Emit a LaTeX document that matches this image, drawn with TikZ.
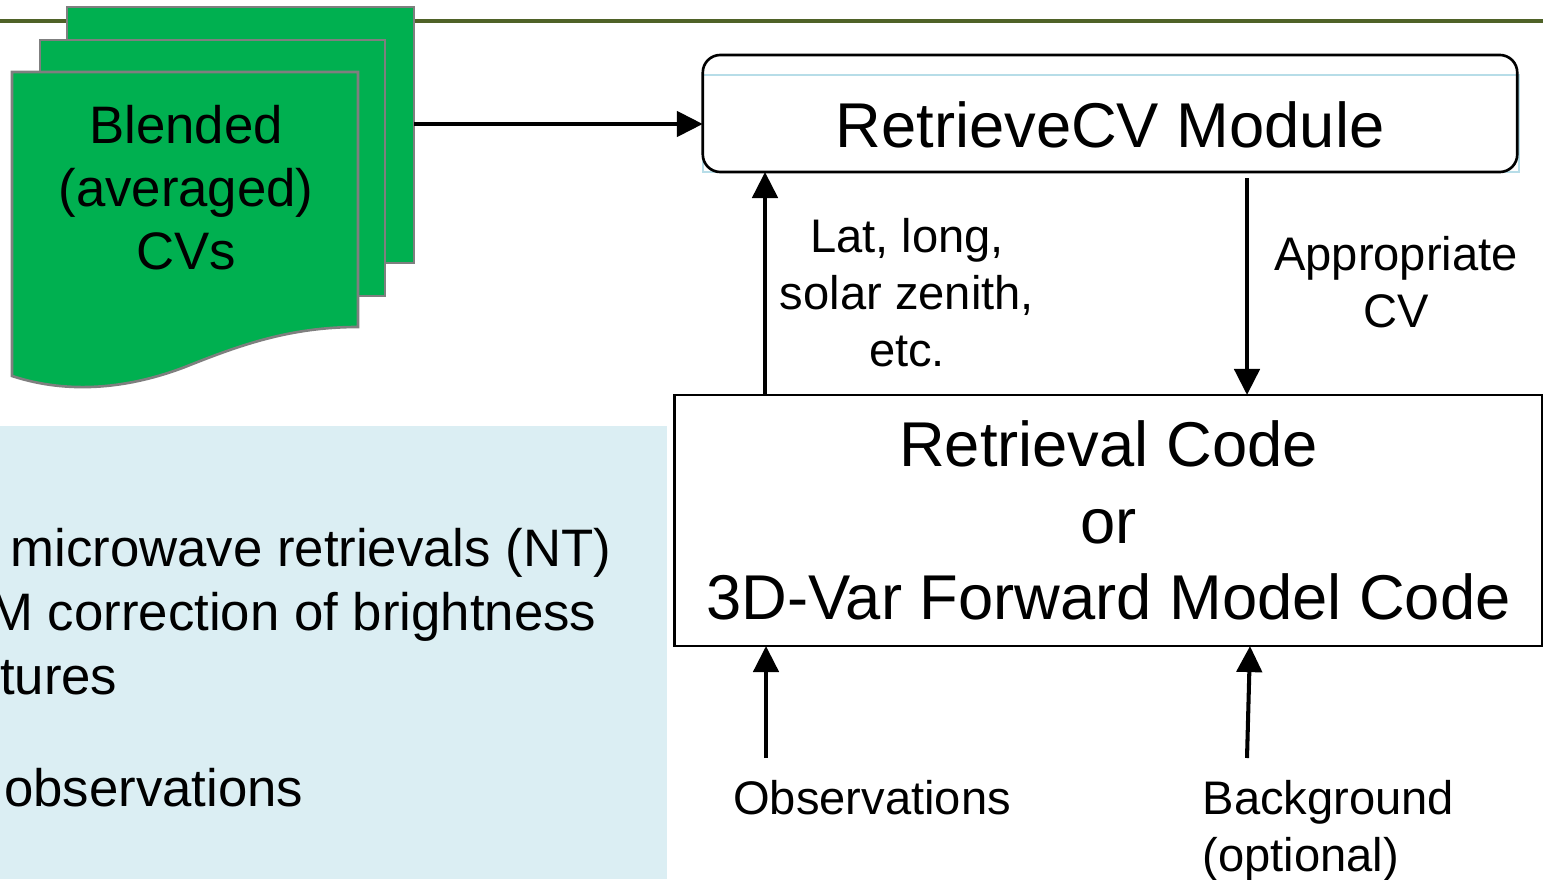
\documentclass[tikz,border=0pt]{standalone}
\usepackage{fontspec}
\setmainfont{Liberation Sans}
\usetikzlibrary{positioning, arrows.meta}

\definecolor{cvgreen}{RGB}{0,176,80}
\definecolor{docedge}{RGB}{127,127,127}
\definecolor{panelblue}{RGB}{219,238,243}
\definecolor{ruleolive}{RGB}{79,98,40}
\definecolor{ghostblue}{RGB}{183,221,232}

\newcommand{\boxfont}{\fontsize{18pt}{21.7pt}\selectfont}
\newcommand{\docfont}{\fontsize{15pt}{17.9pt}\selectfont}
\newcommand{\lblfont}{\fontsize{13.4pt}{16.2pt}\selectfont}

\tikzset{
  cvdoc/.style={draw=docedge, line width=0.75pt, fill=cvgreen},
  modbox/.style={draw, line width=0.75pt, outer sep=0pt},
  lbl/.style={font=\lblfont, inner sep=0pt},
  panelline/.style={font=\docfont, inner sep=0pt, anchor=base east}
}

\begin{document}
\begin{tikzpicture}[x=0.01cm, y=-0.01cm, >={Triangle[length=7.4pt,width=7.2pt]},
    flow/.style={->, line width=1.15pt}]
    \useasboundingbox (0,0) rectangle (1543,879);
    \clip (0,0) rectangle (1543,879);

    % header rule and side panel
    \draw[ruleolive, line width=1.1pt] (0,21) -- (1543,21);
    \fill[panelblue] (0,426) rectangle (667,879);
    \node[panelline] (p1) at (612,566) {microwave retrievals (NT)};
    \node[panelline] (p2) at (597,630) {M correction of brightness};
    \node[panelline] (p3) at (118,694) {tures};
    \node[panelline] (p4) at (304,806) {observations};

    % stack of CV files
    \node[cvdoc, minimum width=3.47cm, minimum height=2.56cm] (docA) at (240.5,135) {};
    \node[cvdoc, minimum width=3.45cm, minimum height=2.56cm] (docB) at (212.5,168) {};
    \draw[cvdoc] (12,72) -- (358,72) -- (358,327)
        .. controls (290,327) and (240,345) .. (185,367)
        .. controls (130,388) and (70,395) .. (12,376) -- cycle;
    \node[align=center, font=\docfont] (cvs) at (186,188) {Blended\\(averaged)\\CVs};

    % modules
    \draw[ghostblue, line width=0.4pt] (703,75) rectangle (1519,172);
    \node[modbox, rounded corners=5pt, minimum width=8.14cm, minimum height=1.17cm,
          text height=0.69cm, font=\boxfont] (rcv) at (1110,113.5) {RetrieveCV Module};
    \node[modbox, minimum width=8.67cm, minimum height=2.51cm, align=center,
          font=\boxfont] (rc) at (1108.5,520.5) {Retrieval Code\\or\\3D-Var Forward Model Code};

    % labels
    \node[lbl, align=center] (geo) at (907,293) {Lat, long,\\solar zenith,\\etc.};
    \node[lbl, align=center] (appcv) at (1396,282) {Appropriate\\CV};
    \node[lbl] (obs) at (872,798) {Observations};
    \node[lbl, align=left, anchor=west] (bg) at (1202,831) {Background\\(optional)};

    % connectors
    \coordinate (feed) at (414,124);
    \coordinate (upx) at (765,0);
    \coordinate (dnx) at (1247,0);
    \coordinate (obsin) at (766,758);
    \coordinate (bgin) at (1247,758);
    \draw[flow] (feed) -- (feed -| rcv.west);
    \draw[flow] (upx |- rc.north) -- (upx |- rcv.south);
    \draw[flow, shorten <=0.06cm] (dnx |- rcv.south) -- (dnx |- rc.north);
    \draw[flow] (obsin) -- (obsin |- rc.south);
    \draw[flow] (bgin) -- ([xshift=0.03cm]bgin |- rc.south);
\end{tikzpicture}
\end{document}
